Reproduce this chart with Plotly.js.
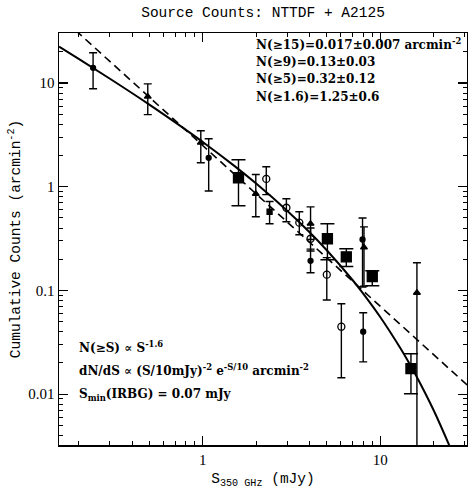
<!DOCTYPE html>
<html><head><meta charset="utf-8">
<script src="https://cdn.plot.ly/plotly-3.0.1.min.js"></script>
<style>html,body{margin:0;padding:0;background:#fff}#c{width:468px;height:489px}</style>
</head><body><div id="c"></div>
<script>
// Filled circles
const dotX  = [0.241, 1.08, 4.05, 7.95, 8.02];
const dotY  = [14.0, 1.9, 0.193, 0.31, 0.040];
const dotHi = [19.6, 2.9, 0.25, 0.50, 0.061];
const dotLo = [8.8, 0.91, 0.148, 0.108, 0.0205];
// Filled triangles
const triX  = [0.49, 0.975, 1.99, 4.05, 8.1, 16.1];
const triY  = [7.4, 2.66, 0.855, 0.44, 0.26, 0.095];
const triHi = [9.8, 3.47, 1.31, 0.64, 0.41, 0.185];
const triLo = [4.95, 1.70, 0.514, 0.31, 0.11, 0.001];
// Open circles
const ocX  = [2.28, 2.96, 3.5, 4.05, 5.0, 6.04];
const ocY  = [1.19, 0.627, 0.45, 0.315, 0.142, 0.0447];
const ocHi = [1.56, 0.766, 0.574, 0.40, 0.207, 0.0745];
const ocLo = [0.84, 0.46, 0.344, 0.24, 0.081, 0.0144];
// Small filled squares
const sqX  = [2.38];
const sqY  = [0.574];
const sqHi = [0.72];
const sqLo = [0.44];
// Large filled squares
const bigX  = [1.59, 5.04, 6.44, 9.02, 14.9];
const bigY  = [1.22, 0.315, 0.211, 0.136, 0.0176];
const bigHi = [1.82, 0.44, 0.252, 0.155, 0.0245];
const bigLo = [0.656, 0.198, 0.17, 0.111, 0.0101];
// Solid model curve
const solidX = [0.155, 0.2, 0.3, 0.5, 0.7, 1, 1.5, 2, 3, 4, 5, 7, 8, 10, 13, 15, 16, 20, 25];
const solidY = [22.4, 17.06, 10.98, 6.19, 4.17, 2.70, 1.597, 1.073, 0.584, 0.364, 0.244, 0.1254, 0.0938, 0.0555, 0.0277, 0.0182, 0.0149, 0.0070, 0.00296];
// Dashed power law
const dashX = [0.15, 35];
const dashY = [47.2, 0.0101];

function sub(a,b){return a.map((v,i)=>v-b[i]);}
function pts(x,y,hi,lo,sym,size,capw,fill){
  return {x:x,y:y,type:'scatter',mode:'markers',
    marker:{symbol:sym,size:size,color:fill,line:{color:'#000',width:1.3}},
    error_y:{type:'data',symmetric:false,array:sub(hi,y),arrayminus:sub(y,lo),color:'#000',thickness:1.4,width:capw},
    showlegend:false};
}
const traces = [
  {x:solidX,y:solidY,type:'scatter',mode:'lines',line:{color:'#000',width:2,shape:'spline'},showlegend:false},
  {x:dashX,y:dashY,type:'scatter',mode:'lines',line:{color:'#000',width:1.6,dash:'8px,5px'},showlegend:false},
  pts(dotX,dotY,dotHi,dotLo,'circle',5,4,'#000'),
  pts(triX,triY,triHi,triLo,'triangle-up',6,4,'#000'),
  pts(ocX,ocY,ocHi,ocLo,'circle-open',7,4,'#000'),
  pts(sqX,sqY,sqHi,sqLo,'square',5,4,'#000'),
  pts(bigX,bigY,bigHi,bigLo,'square',10,7,'#000')
];
const axCommon = {type:'log',showgrid:false,zeroline:false,showline:true,mirror:'allticks',
  linecolor:'#000',linewidth:1.5,ticks:'inside',ticklen:9,tickwidth:1.3,tickcolor:'#000',
  minor:{ticks:'inside',ticklen:4,tickwidth:1,tickcolor:'#000',dtick:'D1',showgrid:false},
  tickfont:{family:'Liberation Serif',size:15,color:'#000'}};
const mono = {family:'Liberation Mono',size:14.5,color:'#000'};
const ann = {family:'DejaVu Serif',size:12,color:'#000',weight:'bold'};
const L = [
  ['N(≥15)=0.017±0.007 arcmin<sup>-2</sup>',254,44],
  ['N(≥9)=0.13±0.03',254,62],
  ['N(≥5)=0.32±0.12',254,79],
  ['N(≥1.6)=1.25±0.6',254,97],
  ['N(≥S) ∝ S<sup>-1.6</sup>',77,347],
  ['dN/dS ∝ (S/10mJy)<sup>-2</sup> e<sup>-S/10</sup> arcmin<sup>-2</sup>',77,370],
  ['S<sub>min</sub>(IRBG) = 0.07 mJy',77,395]
];
const layout = {
  width:468,height:489,margin:{l:59,r:1,t:33,b:44},
  paper_bgcolor:'#fff',plot_bgcolor:'#fff',
  title:{text:'Source Counts: NTTDF + A2125',font:mono,x:0.562,xanchor:'center',y:0.975,yanchor:'middle'},
  xaxis:Object.assign({},axCommon,{range:[-0.81,1.489],tickvals:[1,10],ticktext:['1','10'],
    title:{text:'S<sub>350 GHz</sub> (mJy)',font:mono,standoff:6}}),
  yaxis:Object.assign({},axCommon,{range:[-2.49,1.482],tickvals:[0.01,0.1,1,10],ticktext:['0.01','0.1','1','10'],
    title:{text:'Cumulative Counts (arcmin<sup>-2</sup>)',font:mono,standoff:4}}),
  annotations: L.map(a=>({text:a[0],xref:'paper',yref:'paper',
    x:(a[1]-59)/408,y:(445-a[2])/412,xanchor:'left',yanchor:'middle',showarrow:false,font:ann}))
};
Plotly.newPlot('c',traces,layout,{staticPlot:true});
</script></body></html>
